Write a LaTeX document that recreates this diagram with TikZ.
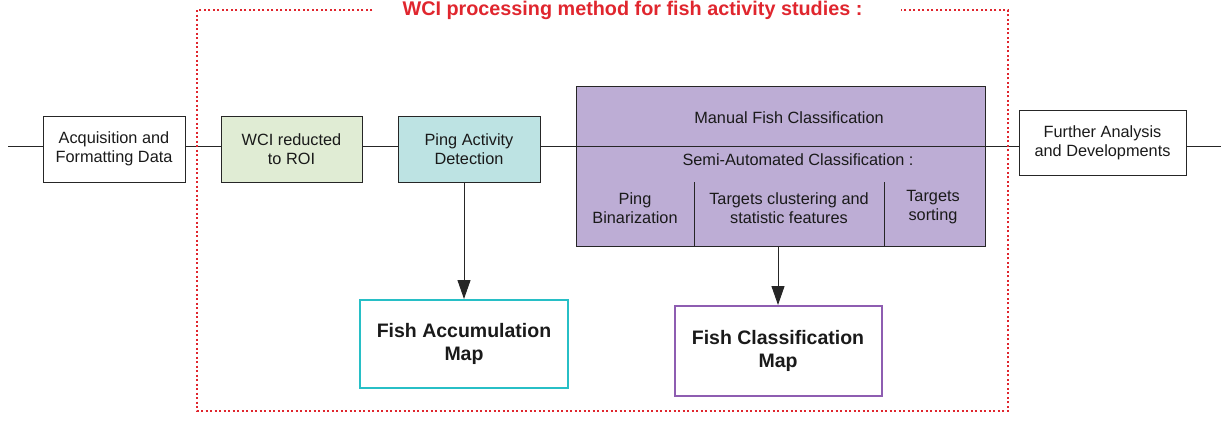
\documentclass[tikz,border=0pt]{standalone}
\usepackage{fontspec}
\setmainfont{Liberation Sans}
\usepackage{xcolor}
\usepackage{tikz}
\usetikzlibrary{positioning,arrows.meta}

\definecolor{textgray}{HTML}{1A1A1A}
\definecolor{linegray}{HTML}{262626}
\definecolor{roigreen}{HTML}{E0ECD4}
\definecolor{pingcyan}{HTML}{BDE3E3}
\definecolor{classpurple}{HTML}{BDADD5}
\definecolor{accumcyan}{HTML}{27BFC6}
\definecolor{mappurple}{HTML}{8E5DB1}
\definecolor{framered}{HTML}{E0262E}

\begin{document}
\begin{tikzpicture}[x=1pt,y=-1pt]
\tikzstyle{every node}=[font=\fontsize{16.3}{19}\selectfont, align=center, text=textgray, inner sep=0pt]
\tikzstyle{stage}=[draw=linegray, line width=1pt, minimum width=142pt, minimum height=66pt]
\tikzstyle{mapbox}=[stage, line width=2pt, minimum width=208pt, minimum height=88pt, fill=white, font=\bfseries\fontsize{19.5}{22.5}\selectfont]
\tikzstyle{flow}=[draw=linegray, line width=1pt]
\tikzstyle{result}=[flow, -{Triangle[width=13pt,length=19pt]}]
\tikzstyle{frame}=[draw=framered, line width=1.3pt, dash pattern=on 2pt off 2.5pt]

\useasboundingbox (0,0) rectangle (1225,420);

% processing chain
\node[stage] (acq) at (114,149) {Acquisition and\\Formatting Data};
\node[stage, fill=roigreen, minimum width=141pt] (roi) at (291.5,149) {WCI reducted\\to ROI};
\node[stage, fill=pingcyan] (ping) at (469,149) {Ping Activity\\Detection};
\node[stage, fill=classpurple, minimum width=409pt, minimum height=160pt] (classif) at (780.5,166) {};
\node[stage, minimum width=167pt, minimum height=65pt] (further) at (1102.5,142.5) {Further Analysis\\and Developments};

% inside the classification block
\node (manual) at (789,118) {Manual Fish Classification};
\node (semi) at (798,160) {Semi-Automated Classification :};
\node (binar) at (635,208) {Ping\\Binarization};
\node (cluster) at (789,208) {Targets clustering and\\statistic features};
\node (sorting) at (933,207) {Targets\\sorting};
\draw[flow] (694,182) -- (694,246);
\draw[flow] (884,182) -- (884,246);

% maps
\node[mapbox, draw=accumcyan] (accmap) at (464,344) {Fish Accumulation\\Map};
\node[mapbox, draw=mappurple, minimum width=207pt, minimum height=90pt] (classmap) at (778,351) {Fish Classification\\Map};

% connectors
\coordinate (in) at (8,146);
\coordinate (out) at (1221,146);
\draw[flow] (in) -- (in -| acq.west);
\draw[flow] (in -| acq.east) -- (in -| roi.west);
\draw[flow] (in -| roi.east) -- (in -| ping.west);
\draw[flow] (in -| ping.east) -- (in -| further.west);
\draw[flow] (out -| further.east) -- (out);
\draw[result] (accmap.north |- ping.south) -- (accmap.north);
\draw[result] (classmap.north |- classif.south) -- (classmap.north);

% dotted frame with title
\node[font=\bfseries\fontsize{19.8}{22}\selectfont, text=framered] (title) at (632.5,10.5) {WCI processing method for fish activity studies :};
\draw[frame] ([xshift=-30pt]title.west |- 0,10) -- (197,10) -- (197,411) -- (1008,411) -- (1008,10) -- ([xshift=38pt]title.east |- 0,10);
\end{tikzpicture}
\end{document}
